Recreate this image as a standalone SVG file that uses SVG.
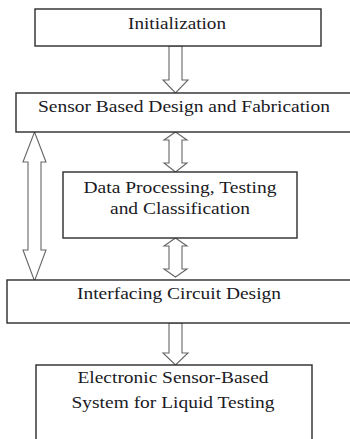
<svg xmlns="http://www.w3.org/2000/svg" width="350" height="439" viewBox="0 0 350 439">
  <style>
    .box { fill: #ffffff; stroke: #2b2b2b; stroke-width: 1.4; }
    .arrow { fill: #ffffff; stroke: #666666; stroke-width: 1.1; stroke-linejoin: miter; }
    .label { font-family: "Liberation Serif", "DejaVu Serif", serif; font-size: 17px; fill: #1a1a24; text-anchor: middle; }
  </style>
  <rect width="350" height="439" fill="#ffffff"/>

  <g id="connectors">
    <path class="arrow" d="M169,46 L169,80 L163,80 L175.5,93 L188,80 L182,80 L182,46 Z"/>
    <path class="arrow" d="M175.5,132 L187,140 L182,140 L182,163 L187,163 L175.5,172 L164,163 L169,163 L169,140 L164,140 Z"/>
    <path class="arrow" d="M175.5,238 L187,246 L182,246 L182,269 L187,269 L175.5,277 L164,269 L169,269 L169,246 L164,246 Z"/>
    <path class="arrow" d="M34.5,132 L46,162 L41,162 L41,250 L46,250 L34.5,281 L23,250 L28,250 L28,162 L23,162 Z"/>
    <path class="arrow" d="M169,323 L169,353 L163,353 L175.5,365 L188,353 L182,353 L182,323 Z"/>
  </g>

  <g id="initialization">
    <rect class="box" x="35" y="9" width="286" height="37"/>
    <text class="label" x="177" y="29" textLength="98" lengthAdjust="spacingAndGlyphs">Initialization</text>
  </g>

  <g id="sensor-design">
    <rect class="box" x="16" y="93" width="340" height="39"/>
    <text class="label" x="184" y="112" textLength="292" lengthAdjust="spacingAndGlyphs">Sensor Based Design and Fabrication</text>
  </g>

  <g id="data-processing">
    <rect class="box" x="63" y="172" width="234" height="66"/>
    <text class="label" x="180" y="193" textLength="193" lengthAdjust="spacingAndGlyphs">Data Processing, Testing</text>
    <text class="label" x="180" y="214" textLength="140" lengthAdjust="spacingAndGlyphs">and Classification</text>
  </g>

  <g id="interfacing">
    <rect class="box" x="7" y="280" width="350" height="43"/>
    <text class="label" x="179" y="299" textLength="204" lengthAdjust="spacingAndGlyphs">Interfacing Circuit Design</text>
  </g>

  <g id="liquid-testing-system">
    <rect class="box" x="36" y="365" width="276" height="80"/>
    <text class="label" x="173" y="383" textLength="191" lengthAdjust="spacingAndGlyphs">Electronic Sensor-Based</text>
    <text class="label" x="173" y="408" textLength="203" lengthAdjust="spacingAndGlyphs">System for Liquid Testing</text>
  </g>
</svg>
